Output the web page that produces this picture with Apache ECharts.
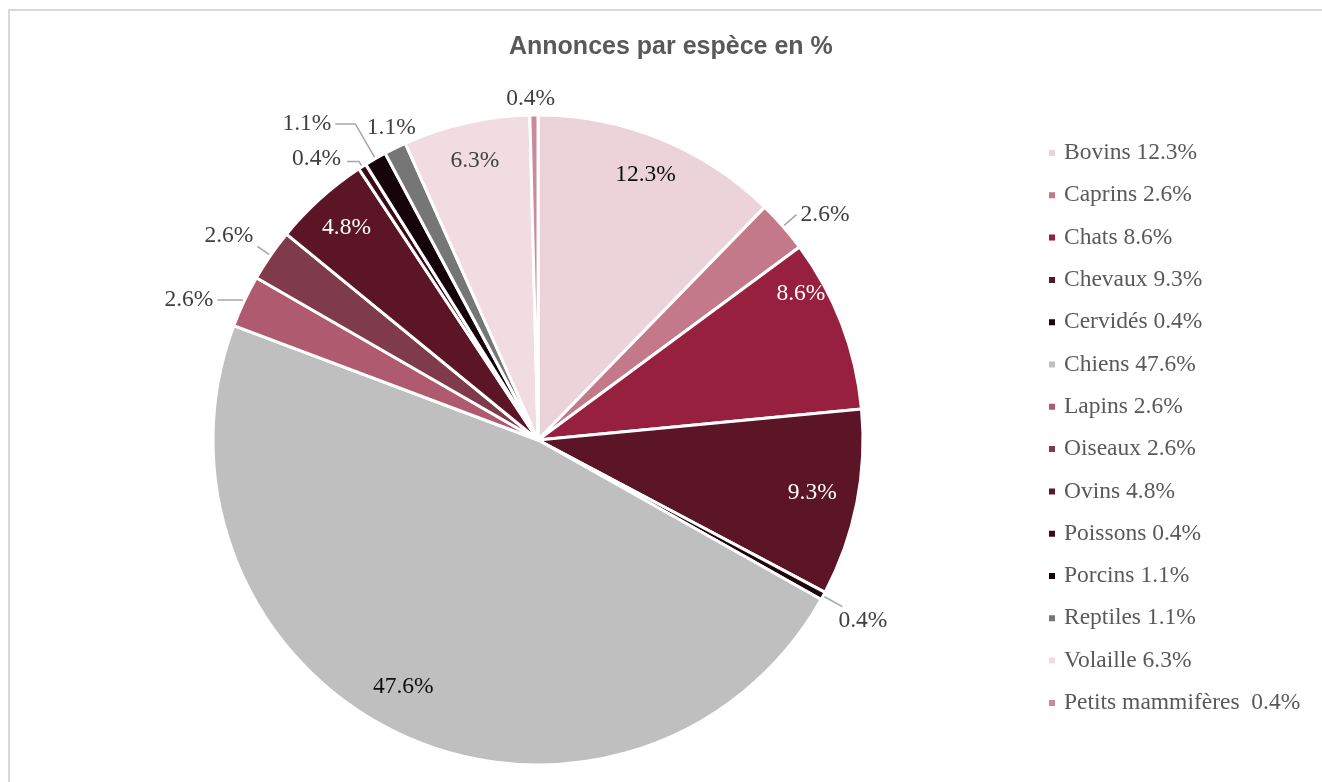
<!DOCTYPE html>
<html><head><meta charset="utf-8">
<script src="https://cdn.jsdelivr.net/npm/echarts@6/dist/echarts.min.js"></script>
<style>html,body{margin:0;padding:0;background:#fff}#c{width:1322px;height:782px}</style>
</head><body><div id="c"></div>
<script>
const title = 'Annonces par espèce en %';
const species = ['Bovins','Caprins','Chats','Chevaux','Cervidés','Chiens','Lapins','Oiseaux','Ovins','Poissons','Porcins','Reptiles','Volaille','Petits mammifères '];
const shares = [12.3, 2.6, 8.6, 9.3, 0.4, 47.6, 2.6, 2.6, 4.8, 0.4, 1.1, 1.1, 6.3, 0.4];
const colors = ['#EBD3D9','#C3798A','#96203D','#5C1427','#1C0609','#BFBFBF','#AF5A6F','#7F3A4B','#5C1427','#3A0A16','#140409','#767676','#F0DCE1','#C98A99'];

// label placement styles
const insideLabels = {'Bovins':'#0d0d0d','Chats':'#ffffff','Chevaux':'#ffffff','Chiens':'#0d0d0d','Ovins':'#ffffff','Volaille':'#404040'};
const ringLabels = ['Reptiles','Petits mammifères '];
const leaderLines = {'Caprins':[18,0],'Cervidés':[22,0],'Lapins':[3,24],'Oiseaux':[16,0],'Poissons':[6,12],'Porcins':[40,20]};
const labelNudges = {'Chats':[-4,-44],'Chevaux':[-6,-3],'Chiens':[-14,-12],'Cervidés':[-8,14],'Oiseaux':[0,-10],
  'Poissons':[-2,-3],'Reptiles':[6,0],'Petits mammifères ':[-3,6]};

const FONT = 'Liberation Serif';
const FS = 23.5;
const CX = 538, CY = 440, R = 325;
const fmt = p => p.value.toFixed(1) + '%';
const nudge = p => {
  const n = labelNudges[species[p.dataIndex]];
  return n ? {dx: n[0], dy: n[1]} : {};
};

const mainData = species.map((n, i) => {
  const d = {name: n, value: shares[i], itemStyle: {color: colors[i]}};
  if (leaderLines[n]) {
    d.label = {show: true, position: 'outside', color: '#404040'};
    d.labelLine = {show: true, length: leaderLines[n][0], length2: leaderLines[n][1]};
  }
  return d;
});
const insideData = species.map((n, i) => ({
  name: n, value: shares[i],
  label: {show: insideLabels[n] !== undefined, color: insideLabels[n] || '#000'}
}));
const ringData = species.map((n, i) => ({
  name: n, value: shares[i],
  label: {show: ringLabels.includes(n), color: '#404040'}
}));

const overlayBase = {
  type: 'pie', center: [CX, CY], clockwise: true, startAngle: 90,
  silent: true, avoidLabelOverlap: false,
  itemStyle: {color: 'rgba(0,0,0,0)', borderWidth: 0},
  emphasis: {disabled: true},
  labelLine: {show: false},
  labelLayout: nudge,
  label: {position: 'inside', fontFamily: FONT, fontSize: FS, formatter: fmt}
};

const chart = echarts.init(document.getElementById('c'), null, {renderer: 'canvas'});
chart.setOption({
  animation: false,
  backgroundColor: '#ffffff',
  title: {
    text: title, left: 504, top: 30,
    textStyle: {fontFamily: 'Liberation Sans', fontWeight: 'bold', fontSize: 25, color: '#595959'}
  },
  graphic: [{
    type: 'polyline', silent: true,
    shape: {points: [[9, 782], [9, 10], [1322, 10]]},
    style: {stroke: '#d9d9d9', lineWidth: 2, fill: 'none'}
  }],
  legend: {
    orient: 'vertical', left: 1042, top: 136,
    itemWidth: 8, itemHeight: 8, itemGap: 18.3, icon: 'rect',
    textStyle: {fontFamily: FONT, fontSize: FS, color: '#595959', padding: [0, 0, 0, 3]},
    formatter: name => name + ' ' + shares[species.indexOf(name)].toFixed(1) + '%',
    data: species
  },
  series: [
    {
      type: 'pie', name: 'main', center: [CX, CY], radius: R,
      clockwise: true, startAngle: 90, avoidLabelOverlap: false,
      itemStyle: {borderColor: '#ffffff', borderWidth: 3},
      emphasis: {disabled: true},
      label: {show: false, fontFamily: FONT, fontSize: FS, formatter: fmt, distanceToLabelLine: 4},
      labelLine: {show: false, lineStyle: {color: '#a6a6a6', width: 1.5}},
      labelLayout: nudge,
      data: mainData
    },
    Object.assign({}, overlayBase, {name: 'inside', radius: [R * 0.74, R], data: insideData}),
    Object.assign({}, overlayBase, {name: 'ring', radius: [R, R * 1.12], data: ringData})
  ]
});
</script></body></html>
